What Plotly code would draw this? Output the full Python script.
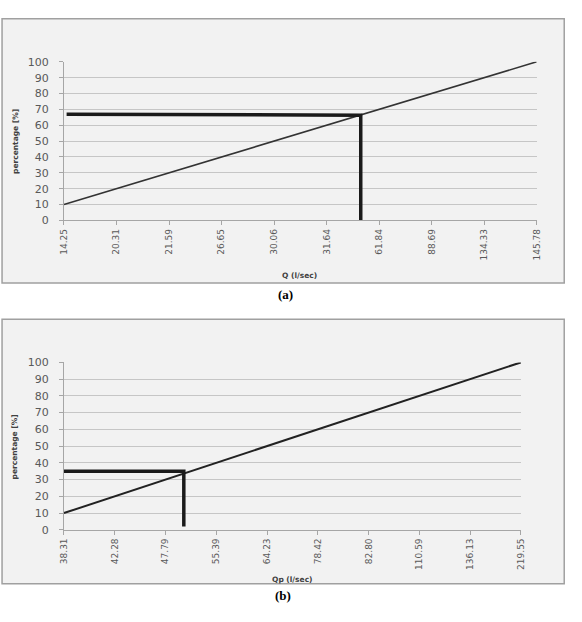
import plotly.graph_objects as go

W, H = 582, 622

# ---- data ----
cats_a = ["14.25", "20.31", "21.59", "26.65", "30.06", "31.64", "61.84", "88.69", "134.33", "145.78"]
pct_a = [10, 20, 30, 40, 50, 60, 70, 80, 90, 100]
read_a_x = [0.05, 5.65, 5.65]   # category-index position of reading
read_a_y = [67, 66.3, 0]

cats_b = ["38.31", "42.28", "47.79", "55.39", "64.23", "78.42", "82.80", "110.59", "136.13", "219.55"]
pct_b = [10, 20, 30, 40, 50, 60, 70, 80, 90, 100]
read_b_x = [0.0, 2.36, 2.36]
read_b_y = [35, 35, 2]

yticks = [0, 10, 20, 30, 40, 50, 60, 70, 80, 90, 100]


def px_x(v):
    return v / W


def px_y(v):
    return 1 - v / H


fig = go.Figure()

fig.add_trace(go.Scatter(x=list(range(len(cats_a))), y=pct_a, mode="lines",
                         line=dict(color="#333333", width=1.6), xaxis="x", yaxis="y", showlegend=False))
fig.add_trace(go.Scatter(x=read_a_x, y=read_a_y, mode="lines",
                         line=dict(color="#1a1a1a", width=3.5), xaxis="x", yaxis="y", showlegend=False))
fig.add_trace(go.Scatter(x=list(range(len(cats_b))), y=pct_b, mode="lines",
                         line=dict(color="#222222", width=2), xaxis="x2", yaxis="y2", showlegend=False))
fig.add_trace(go.Scatter(x=read_b_x, y=read_b_y, mode="lines",
                         line=dict(color="#1a1a1a", width=3.5), xaxis="x2", yaxis="y2", showlegend=False))

tickfont_x = dict(family="DejaVu Sans", size=9, color="#595959")
tickfont_y = dict(family="DejaVu Sans", size=11, color="#595959")

common_x = dict(tickangle=-90, tickfont=tickfont_x, showgrid=False, zeroline=False,
                showline=True, linecolor="#a6a6a6", linewidth=1, ticks="outside",
                ticklen=4, tickcolor="#a6a6a6", range=[0, 9], fixedrange=True)
common_y = dict(range=[0, 100], tickvals=yticks, tickfont=tickfont_y, showgrid=True,
                gridcolor="#c6c6c6", gridwidth=1, zeroline=False, showline=True,
                linecolor="#a6a6a6", linewidth=1, ticks="outside", ticklen=4,
                tickcolor="#a6a6a6", ticklabelstandoff=8, fixedrange=True)

ann_common = dict(xref="paper", yref="paper", showarrow=False, xanchor="center", yanchor="middle")
title_font = dict(family="DejaVu Sans", size=7.5, color="#404040")
cap_font = dict(family="Liberation Serif, Times New Roman, serif", size=13, color="black")

fig.update_layout(
    width=W, height=H,
    margin=dict(l=0, r=0, t=0, b=0),
    paper_bgcolor="white",
    plot_bgcolor="rgba(0,0,0,0)",
    xaxis=dict(domain=[px_x(60), px_x(541)], anchor="y",
               tickvals=list(range(len(cats_a))), ticktext=cats_a, **common_x),
    yaxis=dict(domain=[px_y(219), px_y(57)], anchor="x", **common_y),
    xaxis2=dict(domain=[px_x(60), px_x(525)], anchor="y2",
                tickvals=list(range(len(cats_b))), ticktext=cats_b, **common_x),
    yaxis2=dict(domain=[px_y(535), px_y(364)], anchor="x2", **common_y),
    shapes=[
        dict(type="rect", xref="paper", yref="paper", x0=px_x(-3), x1=px_x(569),
             y0=px_y(283), y1=px_y(13), fillcolor="#f2f2f2",
             line=dict(color="#a0a0a0", width=1.5), layer="below"),
        dict(type="rect", xref="paper", yref="paper", x0=px_x(-3), x1=px_x(569),
             y0=px_y(590), y1=px_y(320), fillcolor="#f2f2f2",
             line=dict(color="#a0a0a0", width=1.5), layer="below"),
    ],
    annotations=[
        dict(text="<b>percentage [%]</b>", textangle=-90, x=px_x(10), y=px_y(138),
             font=title_font, **ann_common),
        dict(text="<b>Q (l/sec)</b>", x=px_x(300), y=px_y(275), font=title_font, **ann_common),
        dict(text="<b>(a)</b>", x=px_x(285), y=px_y(295), font=cap_font, **ann_common),
        dict(text="<b>percentage [%]</b>", textangle=-90, x=px_x(10), y=px_y(450),
             font=title_font, **ann_common),
        dict(text="<b>Qp (l/sec)</b>", x=px_x(293), y=px_y(586), font=title_font, **ann_common),
        dict(text="<b>(b)</b>", x=px_x(283), y=px_y(602), font=cap_font, **ann_common),
    ],
)

fig.write_html("out.html")
